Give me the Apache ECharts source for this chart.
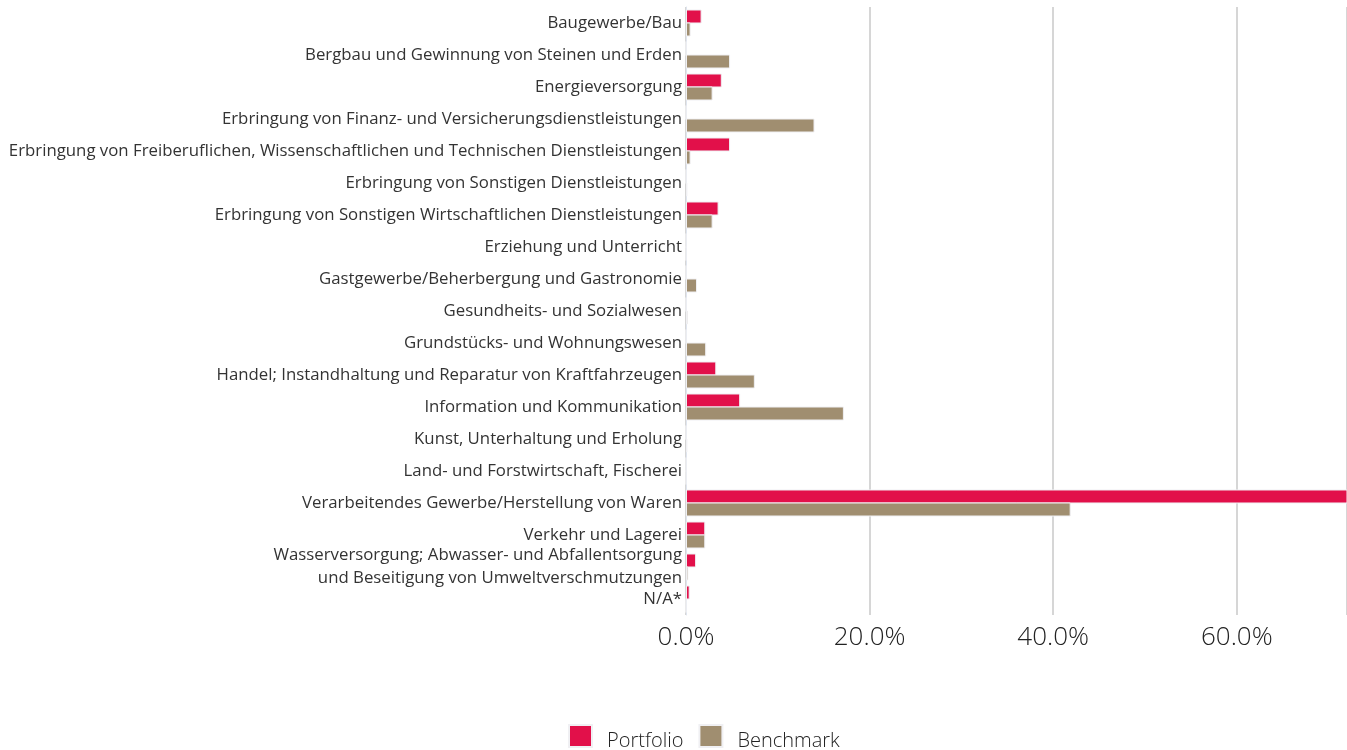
<!DOCTYPE html>
<html><head><meta charset="utf-8">
<script src="https://cdn.jsdelivr.net/npm/echarts@6/dist/echarts.min.js"></script>
<style>html,body{margin:0;padding:0;background:#fff}#c{width:1347px;height:750px}</style>
</head><body><div id="c"></div>
<script>
const categories = [
  "Baugewerbe/Bau",
  "Bergbau und Gewinnung von Steinen und Erden",
  "Energieversorgung",
  "Erbringung von Finanz- und Versicherungsdienstleistungen",
  "Erbringung von Freiberuflichen, Wissenschaftlichen und Technischen Dienstleistungen",
  "Erbringung von Sonstigen Dienstleistungen",
  "Erbringung von Sonstigen Wirtschaftlichen Dienstleistungen",
  "Erziehung und Unterricht",
  "Gastgewerbe/Beherbergung und Gastronomie",
  "Gesundheits- und Sozialwesen",
  "Grundstücks- und Wohnungswesen",
  "Handel; Instandhaltung und Reparatur von Kraftfahrzeugen",
  "Information und Kommunikation",
  "Kunst, Unterhaltung und Erholung",
  "Land- und Forstwirtschaft, Fischerei",
  "Verarbeitendes Gewerbe/Herstellung von Waren",
  "Verkehr und Lagerei",
  "Wasserversorgung; Abwasser- und Abfallentsorgung\nund Beseitigung von Umweltverschmutzungen",
  "N/A*"
];
const portfolio = [1.7, 0, 3.9, 0, 4.8, 0, 3.55, 0, 0, 0, 0, 3.3, 5.9, 0, 0, 75.0, 2.1, 1.1, 0.4];
const benchmark = [0.5, 4.8, 2.9, 14.0, 0.5, 0.15, 2.9, 0, 1.2, 0.2, 2.2, 7.5, 17.2, 0.15, 0, 41.9, 2.1, 0.25, 0];
const seriesNames = ["Portfolio", "Benchmark"];

const chart = echarts.init(document.getElementById('c'));
const FONT = "'Open Sans', 'Noto Sans', sans-serif";
chart.setOption({
  animation: false,
  textStyle: { fontFamily: FONT },
  grid: { left: 686, right: 0, top: 7, bottom: 135, containLabel: false },
  legend: {
    left: 568, top: 724, padding: 0,
    itemWidth: 23, itemHeight: 32, itemGap: 15,
    icon: 'path://M0,0L23,0L23,22L0,22Z M0,32L0,32L0,32Z',
    textStyle: { fontSize: 20, color: '#222', fontFamily: FONT, fontWeight: 300, padding: [0,0,0,10] },
    data: seriesNames
  },
  xAxis: {
    type: 'value', min: 0, max: 72, interval: 20,
    axisLine: { show: false }, axisTick: { show: false },
    axisLabel: { fontSize: 26, color: '#222', fontWeight: 300, margin: 10, showMaxLabel: false,
      formatter: v => v.toFixed(1) + '%' },
    splitLine: { show: true, lineStyle: { color: '#d6d6d6', width: 2 } }
  },
  yAxis: {
    type: 'category', inverse: true, data: categories,
    axisLine: { show: true, lineStyle: { color: '#dfe5ef', width: 1 } },
    axisTick: { show: false },
    axisLabel: { interval: 0, fontSize: 16.8, color: '#333', margin: 4, lineHeight: 23 }
  },
  series: [
    { name: seriesNames[0], type: 'bar', data: portfolio, barWidth: 14, barGap: '-7%',
      itemStyle: { color: '#E2104A', borderColor: '#f0f0f3', borderWidth: 1 } },
    { name: seriesNames[1], type: 'bar', data: benchmark, barWidth: 14,
      itemStyle: { color: '#A08E70', borderColor: '#f0f0f3', borderWidth: 1 } }
  ]
});
</script></body></html>
